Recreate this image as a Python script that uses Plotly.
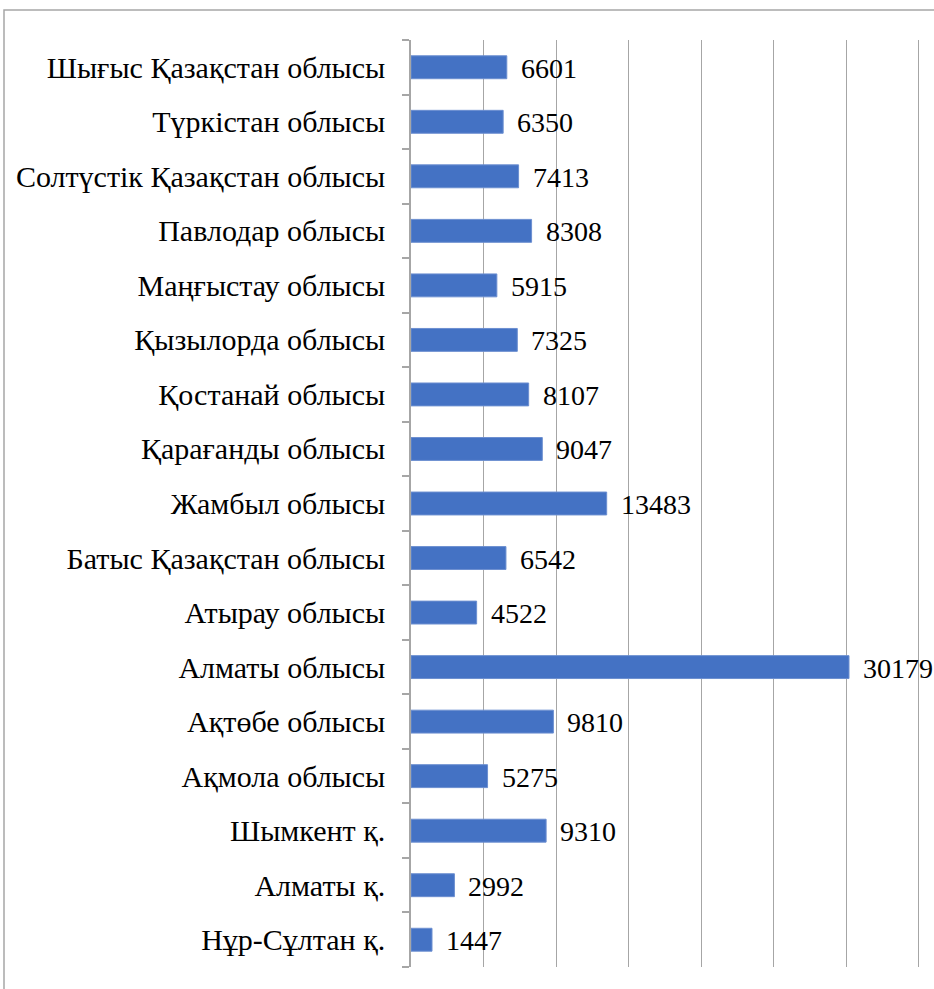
import plotly.graph_objects as go

regions = [
    "Нұр-Сұлтан қ.", "Алматы қ.", "Шымкент қ.", "Ақмола облысы", "Ақтөбе облысы",
    "Алматы облысы", "Атырау облысы", "Батыс Қазақстан облысы", "Жамбыл облысы",
    "Қарағанды облысы", "Қостанай облысы", "Қызылорда облысы", "Маңғыстау облысы",
    "Павлодар облысы", "Солтүстік Қазақстан облысы", "Түркістан облысы",
    "Шығыс Қазақстан облысы",
]
values = [1447, 2992, 9310, 5275, 9810, 30179, 4522, 6542, 13483, 9047, 8107,
          7325, 5915, 8308, 7413, 6350, 6601]

FONT = "Liberation Serif"
W, H = 934, 989
ML, MR, MT, MB = 411, 13, 40, 22
pw = W - ML - MR
ph = H - MT - MB

fig = go.Figure()
fig.add_trace(go.Bar(
    x=values, y=regions, orientation="h",
    marker=dict(color="#4472C4", line=dict(color="#6C8FD0", width=1)),
    hoverinfo="x+y",
))

for r, v in zip(regions, values):
    fig.add_annotation(x=v, y=r, text=str(v), showarrow=False, xanchor="left",
                       xshift=12, yshift=-1, font=dict(family=FONT, size=28, color="#000"))

# chart frame border
fig.add_shape(type="rect", xref="paper", yref="paper",
              x0=(4 - ML) / pw, x1=1.2, y0=-0.2, y1=(H - MB - 10) / ph,
              line=dict(color="#A6A6A6", width=1.5), fillcolor="rgba(0,0,0,0)", layer="below")

fig.update_layout(
    width=W, height=H,
    margin=dict(l=ML, r=MR, t=MT, b=MB, autoexpand=False),
    paper_bgcolor="white", plot_bgcolor="white",
    bargap=0.58,
    showlegend=False,
    font=dict(family=FONT, size=30, color="#000"),
    xaxis=dict(range=[0, 35140], tick0=0, dtick=5000, showgrid=True, gridcolor="#A6A6A6",
               gridwidth=1, showticklabels=False, zeroline=False, showline=False, ticks="",
               automargin=False),
    yaxis=dict(showline=True, linecolor="#A6A6A6", linewidth=1.5, ticks="outside",
               tickson="boundaries", ticklen=7, tickcolor="#A6A6A6", tickwidth=1.5,
               ticklabelstandoff=18, showgrid=False, automargin=False,
               tickfont=dict(family=FONT, size=30, color="#000")),
)

fig.write_html("out.html", config={"displayModeBar": False},
               post_script="document.body.style.margin='0';document.body.style.overflow='hidden';")
